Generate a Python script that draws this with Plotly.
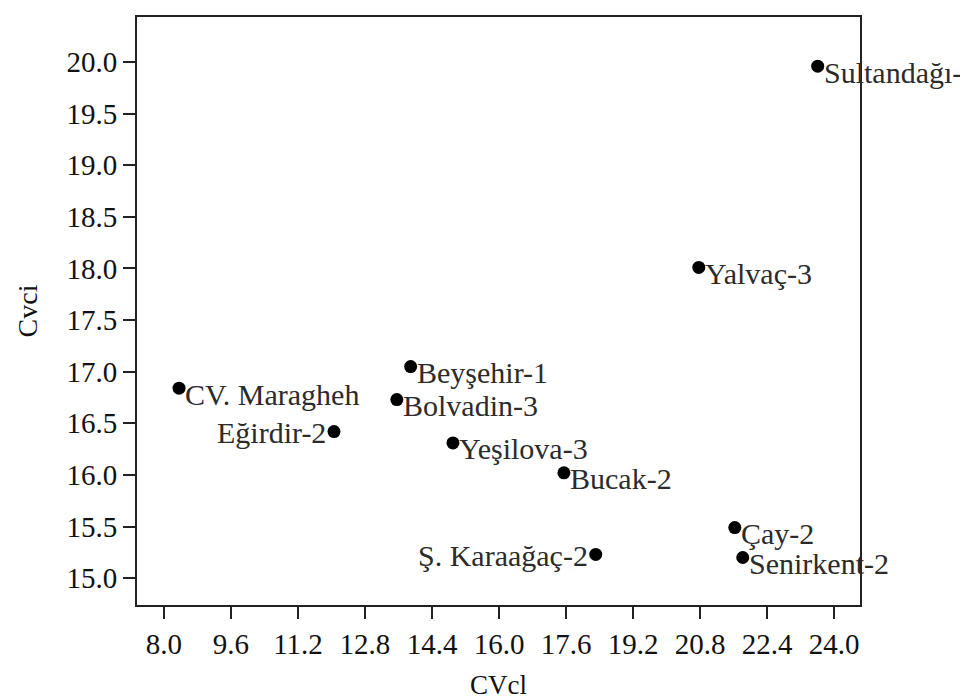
import plotly.graph_objects as go

# ---- data ----
names = ["Sultandağı-", "Yalvaç-3", "CV. Maragheh", "Eğirdir-2", "Beyşehir-1",
         "Bolvadin-3", "Yeşilova-3", "Bucak-2", "Ş. Karaağaç-2", "Çay-2", "Senirkent-2"]
cvcl = [23.61, 20.77, 8.36, 12.06, 13.89, 13.56, 14.90, 17.55, 18.31, 21.63, 21.82]
cvci = [19.96, 18.01, 16.84, 16.42, 17.05, 16.73, 16.31, 16.02, 15.23, 15.49, 15.20]

x_ticks = [8.0, 9.6, 11.2, 12.8, 14.4, 16.0, 17.6, 19.2, 20.8, 22.4, 24.0]
y_ticks = [15.0, 15.5, 16.0, 16.5, 17.0, 17.5, 18.0, 18.5, 19.0, 19.5, 20.0]

left_labels = ["Eğirdir-2", "Ş. Karaağaç-2"]

FONT = "Liberation Serif, Times New Roman, serif"
INK = "#111111"
LABEL_INK = "#2b2b2b"

fig = go.Figure()
fig.add_trace(go.Scatter(
    x=cvcl, y=cvci, mode="markers",
    marker=dict(size=13, color="black"),
    hoverinfo="text", text=names, showlegend=False, cliponaxis=False,
))

annotations = []
for n, xv, yv in zip(names, cvcl, cvci):
    left = n in left_labels
    annotations.append(dict(
        x=xv, y=yv, xref="x", yref="y", text=n, showarrow=False,
        xanchor="right" if left else "left", yanchor="middle",
        xshift=-6 if left else 4, yshift=-1 if left else -6,
        font=dict(family=FONT, size=30, color=LABEL_INK),
    ))

# the page body adds an 8px margin, so the figure is 8px smaller on each side
fig.update_layout(
    width=960, height=692,
    margin=dict(l=129, r=108, t=9, b=95, autoexpand=False),
    paper_bgcolor="white", plot_bgcolor="white",
    annotations=annotations,
    font=dict(family=FONT, size=29, color=INK),
)
fig.update_xaxes(
    range=[7.356, 24.62], tickvals=x_ticks, ticktext=[f"{v:.1f}" for v in x_ticks],
    showgrid=False, zeroline=False, showline=True, mirror=True,
    linecolor="#222", linewidth=2, ticks="outside", ticklen=12, tickwidth=2,
    tickcolor="#222", tickfont=dict(family=FONT, size=29, color=INK),
    automargin=False,
    title=dict(text="CVcl", standoff=28, font=dict(family=FONT, size=27, color=INK)),
)
fig.update_yaxes(
    range=[14.74, 20.436], tickvals=y_ticks, ticktext=[f"{v:.1f}" for v in y_ticks],
    showgrid=False, zeroline=False, showline=True, mirror=True,
    linecolor="#222", linewidth=2, ticks="outside", ticklen=12, tickwidth=2,
    tickcolor="#222", tickfont=dict(family=FONT, size=29, color=INK),
    automargin=False,
    title=dict(text="Cvci", standoff=21, font=dict(family=FONT, size=28, color=INK)),
)

fig.write_html("out.html")
